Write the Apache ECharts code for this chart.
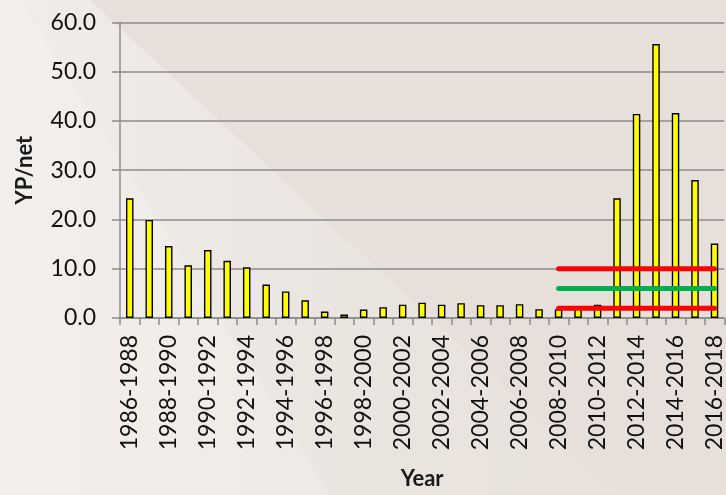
<!DOCTYPE html>
<html>
<head>
<meta charset="utf-8">
<script src="https://cdn.jsdelivr.net/npm/echarts@6/dist/echarts.min.js"></script>
<style>
html,body{margin:0;padding:0;}
#c{width:726px;height:495px;}
</style>
</head>
<body>
<div id="c"></div>
<script>
var startYears = [1986,1987,1988,1989,1990,1991,1992,1993,1994,1995,1996,1997,1998,1999,2000,2001,2002,2003,2004,2005,2006,2007,2008,2009,2010,2011,2012,2013,2014,2015,2016];
var categories = startYears.map(function(y){ return y + '-' + (y + 2); });
var ypNet = [24.3, 19.9, 14.6, 10.7, 13.8, 11.6, 10.3, 6.8, 5.4, 3.6, 1.3, 0.7, 1.7, 2.2, 2.7, 3.1, 2.7, 3.0, 2.6, 2.6, 2.8, 1.8, 1.8, 2.0, 2.7, 24.3, 41.4, 55.6, 41.6, 28.0, 15.1];
var upperLimit = 10;
var meanLevel = 6;
var lowerLimit = 2;
var refStart = '2008-2010';
var refEnd = '2016-2018';
var yTicks = [0, 10, 20, 30, 40, 50, 60];

function refLine(v){
  var i0 = categories.indexOf(refStart), i1 = categories.indexOf(refEnd);
  return categories.map(function(c, i){ return (i >= i0 && i <= i1) ? v : null; });
}

var chart = echarts.init(document.getElementById('c'));
var font = 'Lato, "Open Sans", sans-serif';
chart.setOption({
  backgroundColor: '#e7e0da',
  animation: false,
  graphic: [
    {
      type: 'polygon', z: -10, silent: true,
      shape: {points: [[0, 0], [90, 0], [620, 495], [0, 495]]},
      style: {fill: {type: 'linear', x: 0, y: 0, x2: 1, y2: 0, colorStops: [
        {offset: 0, color: 'rgba(255,255,255,0.4)'},
        {offset: 0.6, color: 'rgba(255,255,255,0.15)'},
        {offset: 1, color: 'rgba(255,255,255,0.05)'}
      ]}}
    },
    {
      type: 'polygon', z: -10, silent: true,
      shape: {points: [[0, 0], [20, 0], [330, 495], [0, 495]]},
      style: {fill: 'rgba(255,255,255,0.18)'}
    }
  ],
  grid: {left: 120, right: 1, top: 22.3, bottom: 170, containLabel: false},
  xAxis: {
    type: 'category',
    data: categories,
    boundaryGap: true,
    name: 'Year',
    nameLocation: 'middle',
    nameGap: 150,
    nameTextStyle: {fontFamily: font, fontSize: 22, fontWeight: 'bold', color: '#1a1a1a'},
    axisLine: {lineStyle: {color: '#8c8c8c', width: 1.5}},
    axisTick: {show: true, interval: 0, length: 7, lineStyle: {color: '#8c8c8c', width: 1.5}},
    axisLabel: {interval: 1, rotate: 90, margin: 17, fontFamily: font, fontSize: 23, color: '#111'},
    splitLine: {show: false}
  },
  yAxis: {
    type: 'value',
    min: yTicks[0], max: yTicks[yTicks.length - 1], interval: 10,
    name: 'YP/net',
    nameLocation: 'middle',
    nameGap: 84,
    nameTextStyle: {fontFamily: font, fontSize: 22, fontWeight: 'bold', color: '#1a1a1a'},
    axisLine: {show: true, lineStyle: {color: '#8c8c8c', width: 1.5}},
    axisTick: {show: true, length: 8, lineStyle: {color: '#8c8c8c', width: 1.5}},
    axisLabel: {margin: 24, fontFamily: font, fontSize: 23, color: '#111', formatter: function(v){ return v.toFixed(1); }},
    splitLine: {lineStyle: {color: '#8c8c8c', width: 1.5}}
  },
  series: [
    {
      type: 'bar',
      data: ypNet,
      barWidth: 7.5,
      itemStyle: {color: '#ffff00', borderColor: '#000', borderWidth: 1.4},
      z: 2
    },
    {type: 'line', data: refLine(upperLimit), symbol: 'none', connectNulls: false, lineStyle: {color: '#ff0000', width: 5, cap: 'round'}, z: 5},
    {type: 'line', data: refLine(meanLevel), symbol: 'none', connectNulls: false, lineStyle: {color: '#00b050', width: 5, cap: 'round'}, z: 5},
    {type: 'line', data: refLine(lowerLimit), symbol: 'none', connectNulls: false, lineStyle: {color: '#ff0000', width: 5, cap: 'round'}, z: 5}
  ]
});
</script>
</body>
</html>
